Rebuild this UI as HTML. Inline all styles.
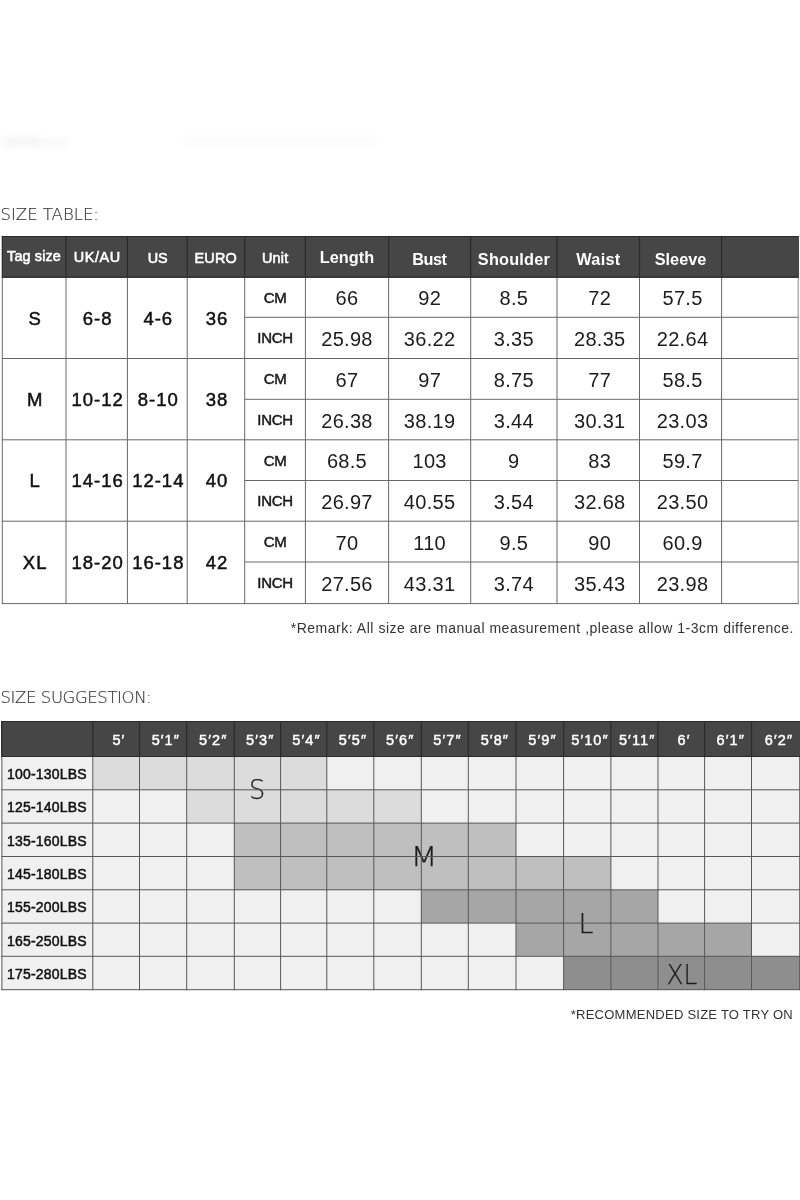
<!DOCTYPE html>
<html lang="en">
<head>
<meta charset="utf-8">
<title>Size Table</title>
<style>
html,body{margin:0;padding:0;background:#fff;}
body{width:800px;height:1200px;position:relative;overflow:hidden;font-family:"Liberation Sans",sans-serif;color:#111;}
.abs{position:absolute;}
svg{position:absolute;left:0;top:0;}
.c{position:absolute;display:flex;align-items:center;justify-content:center;white-space:nowrap;box-sizing:border-box;}
.c span{display:inline-block;}
.title{position:absolute;left:0.5px;font-family:"DejaVu Sans Light","DejaVu Sans","Liberation Sans",sans-serif;font-weight:200;font-size:16.5px;color:#3c3c3c;-webkit-text-stroke:0.2px #3c3c3c;white-space:nowrap;}
.h1{color:#fff;font-size:15.5px;padding-top:2px;-webkit-text-stroke:0.6px #fff;}
.h1 span{transform:scaleX(.93);}
.h1b{color:#fff;font-weight:bold;font-size:16.3px;letter-spacing:0.1px;padding-top:4px;}
.b1{font-size:18.5px;color:#111;letter-spacing:1px;-webkit-text-stroke:0.5px #111;padding-top:2px;padding-left:2px;}
.u1{font-size:15px;color:#1a1a1a;letter-spacing:-0.3px;-webkit-text-stroke:0.5px #1a1a1a;}
.v1{font-size:20px;color:#1c1c1c;letter-spacing:0.3px;padding-top:3.5px;}
.note{position:absolute;font-size:13px;color:#333;white-space:nowrap;letter-spacing:0.35px;}
.h2{color:#fff;font-size:14.5px;letter-spacing:1.1px;-webkit-text-stroke:0.45px #fff;padding-left:5.5px;padding-top:2.2px;}
.w2{font-size:14px;color:#111;justify-content:flex-start;letter-spacing:0.22px;-webkit-text-stroke:0.5px #111;padding-top:2px;}
.big{position:absolute;font-family:"DejaVu Sans Light","DejaVu Sans","Liberation Sans",sans-serif;font-weight:200;font-size:25.7px;color:#1e1e1e;-webkit-text-stroke:0.25px #1e1e1e;white-space:nowrap;transform:translate(-50%,-50%);}

</style>
</head>
<body>
<div class="abs" style="left:2px;top:137px;width:38px;height:9px;background:#f5f5f5;filter:blur(3px);"></div>
<div class="abs" style="left:38px;top:139px;width:30px;height:7px;background:#f9f9f9;filter:blur(3px);"></div>
<div class="abs" style="left:185px;top:137px;width:190px;height:8px;background:#fafafa;filter:blur(3px);"></div>
<div class="title" style="top:204.5px;">SIZE TABLE:</div>
<div class="abs" style="left:2px;top:236px;width:796.6px;height:42px;background:#464646;"></div>
<div class="c h1" style="left:2.3px;top:232.5px;width:63.7px;height:44.5px;"><span style="letter-spacing:0.15px;margin-right:-0.15px">Tag size</span></div>
<div class="c h1" style="left:66.0px;top:234.5px;width:61.4px;height:42.5px;"><span style="letter-spacing:0.65px;margin-right:-0.65px">UK/AU</span></div>
<div class="c h1" style="left:127.4px;top:236.5px;width:59.8px;height:40.5px;"><span style="letter-spacing:-0.20px;margin-right:0.20px">US</span></div>
<div class="c h1" style="left:187.2px;top:236.5px;width:57.5px;height:40.5px;"><span style="letter-spacing:0.15px;margin-right:-0.15px">EURO</span></div>
<div class="c h1" style="left:244.7px;top:236.5px;width:60.7px;height:40.5px;"><span style="letter-spacing:0.20px;margin-right:-0.20px">Unit</span></div>
<div class="c h1b" style="left:305.4px;top:233.5px;width:83.2px;height:43.5px;"><span style="letter-spacing:0.00px;margin-right:-0.00px">Length</span></div>
<div class="c h1b" style="left:388.6px;top:237.1px;width:82.1px;height:39.9px;"><span style="letter-spacing:-0.50px;margin-right:0.50px">Bust</span></div>
<div class="c h1b" style="left:470.7px;top:237.1px;width:86.3px;height:39.9px;"><span style="letter-spacing:0.20px;margin-right:-0.20px">Shoulder</span></div>
<div class="c h1b" style="left:557.0px;top:237.1px;width:82.5px;height:39.9px;"><span style="letter-spacing:0.30px;margin-right:-0.30px">Waist</span></div>
<div class="c h1b" style="left:639.5px;top:237.1px;width:82.1px;height:39.9px;"><span style="letter-spacing:0.00px;margin-right:-0.00px">Sleeve</span></div>
<div class="c b1" style="left:2.3px;top:277.0px;width:63.7px;height:81.5px;"><span>S</span></div>
<div class="c b1" style="left:66.0px;top:277.0px;width:61.4px;height:81.5px;"><span>6-8</span></div>
<div class="c b1" style="left:127.4px;top:277.0px;width:59.8px;height:81.5px;"><span>4-6</span></div>
<div class="c b1" style="left:187.2px;top:277.0px;width:57.5px;height:81.5px;"><span>36</span></div>
<div class="c u1" style="left:244.7px;top:277.0px;width:60.7px;height:40.3px;"><span>CM</span></div>
<div class="c u1" style="left:244.7px;top:317.3px;width:60.7px;height:41.2px;"><span>INCH</span></div>
<div class="c v1" style="left:305.4px;top:277.0px;width:83.2px;height:40.3px;"><span>66</span></div>
<div class="c v1" style="left:388.6px;top:277.0px;width:82.1px;height:40.3px;"><span>92</span></div>
<div class="c v1" style="left:470.7px;top:277.0px;width:86.3px;height:40.3px;"><span>8.5</span></div>
<div class="c v1" style="left:560.0px;top:277.0px;width:79.5px;height:40.3px;"><span>72</span></div>
<div class="c v1" style="left:643.5px;top:277.0px;width:78.1px;height:40.3px;"><span>57.5</span></div>
<div class="c v1" style="left:305.4px;top:317.3px;width:83.2px;height:41.2px;"><span>25.98</span></div>
<div class="c v1" style="left:388.6px;top:317.3px;width:82.1px;height:41.2px;"><span>36.22</span></div>
<div class="c v1" style="left:470.7px;top:317.3px;width:86.3px;height:41.2px;"><span>3.35</span></div>
<div class="c v1" style="left:560.0px;top:317.3px;width:79.5px;height:41.2px;"><span>28.35</span></div>
<div class="c v1" style="left:643.5px;top:317.3px;width:78.1px;height:41.2px;"><span>22.64</span></div>
<div class="c b1" style="left:2.3px;top:358.5px;width:63.7px;height:81.3px;"><span>M</span></div>
<div class="c b1" style="left:66.0px;top:358.5px;width:61.4px;height:81.3px;"><span>10-12</span></div>
<div class="c b1" style="left:127.4px;top:358.5px;width:59.8px;height:81.3px;"><span>8-10</span></div>
<div class="c b1" style="left:187.2px;top:358.5px;width:57.5px;height:81.3px;"><span>38</span></div>
<div class="c u1" style="left:244.7px;top:358.5px;width:60.7px;height:40.8px;"><span>CM</span></div>
<div class="c u1" style="left:244.7px;top:399.3px;width:60.7px;height:40.5px;"><span>INCH</span></div>
<div class="c v1" style="left:305.4px;top:358.5px;width:83.2px;height:40.8px;"><span>67</span></div>
<div class="c v1" style="left:388.6px;top:358.5px;width:82.1px;height:40.8px;"><span>97</span></div>
<div class="c v1" style="left:470.7px;top:358.5px;width:86.3px;height:40.8px;"><span>8.75</span></div>
<div class="c v1" style="left:560.0px;top:358.5px;width:79.5px;height:40.8px;"><span>77</span></div>
<div class="c v1" style="left:643.5px;top:358.5px;width:78.1px;height:40.8px;"><span>58.5</span></div>
<div class="c v1" style="left:305.4px;top:399.3px;width:83.2px;height:40.5px;"><span>26.38</span></div>
<div class="c v1" style="left:388.6px;top:399.3px;width:82.1px;height:40.5px;"><span>38.19</span></div>
<div class="c v1" style="left:470.7px;top:399.3px;width:86.3px;height:40.5px;"><span>3.44</span></div>
<div class="c v1" style="left:560.0px;top:399.3px;width:79.5px;height:40.5px;"><span>30.31</span></div>
<div class="c v1" style="left:643.5px;top:399.3px;width:78.1px;height:40.5px;"><span>23.03</span></div>
<div class="c b1" style="left:2.3px;top:439.8px;width:63.7px;height:81.4px;"><span>L</span></div>
<div class="c b1" style="left:66.0px;top:439.8px;width:61.4px;height:81.4px;"><span>14-16</span></div>
<div class="c b1" style="left:127.4px;top:439.8px;width:59.8px;height:81.4px;"><span>12-14</span></div>
<div class="c b1" style="left:187.2px;top:439.8px;width:57.5px;height:81.4px;"><span>40</span></div>
<div class="c u1" style="left:244.7px;top:439.8px;width:60.7px;height:40.7px;"><span>CM</span></div>
<div class="c u1" style="left:244.7px;top:480.5px;width:60.7px;height:40.7px;"><span>INCH</span></div>
<div class="c v1" style="left:305.4px;top:439.8px;width:83.2px;height:40.7px;"><span>68.5</span></div>
<div class="c v1" style="left:388.6px;top:439.8px;width:82.1px;height:40.7px;"><span>103</span></div>
<div class="c v1" style="left:470.7px;top:439.8px;width:86.3px;height:40.7px;"><span>9</span></div>
<div class="c v1" style="left:560.0px;top:439.8px;width:79.5px;height:40.7px;"><span>83</span></div>
<div class="c v1" style="left:643.5px;top:439.8px;width:78.1px;height:40.7px;"><span>59.7</span></div>
<div class="c v1" style="left:305.4px;top:480.5px;width:83.2px;height:40.7px;"><span>26.97</span></div>
<div class="c v1" style="left:388.6px;top:480.5px;width:82.1px;height:40.7px;"><span>40.55</span></div>
<div class="c v1" style="left:470.7px;top:480.5px;width:86.3px;height:40.7px;"><span>3.54</span></div>
<div class="c v1" style="left:560.0px;top:480.5px;width:79.5px;height:40.7px;"><span>32.68</span></div>
<div class="c v1" style="left:643.5px;top:480.5px;width:78.1px;height:40.7px;"><span>23.50</span></div>
<div class="c b1" style="left:2.3px;top:521.2px;width:63.7px;height:82.4px;"><span>XL</span></div>
<div class="c b1" style="left:66.0px;top:521.2px;width:61.4px;height:82.4px;"><span>18-20</span></div>
<div class="c b1" style="left:127.4px;top:521.2px;width:59.8px;height:82.4px;"><span>16-18</span></div>
<div class="c b1" style="left:187.2px;top:521.2px;width:57.5px;height:82.4px;"><span>42</span></div>
<div class="c u1" style="left:244.7px;top:521.2px;width:60.7px;height:40.8px;"><span>CM</span></div>
<div class="c u1" style="left:244.7px;top:562.0px;width:60.7px;height:41.6px;"><span>INCH</span></div>
<div class="c v1" style="left:305.4px;top:521.2px;width:83.2px;height:40.8px;"><span>70</span></div>
<div class="c v1" style="left:388.6px;top:521.2px;width:82.1px;height:40.8px;"><span>110</span></div>
<div class="c v1" style="left:470.7px;top:521.2px;width:86.3px;height:40.8px;"><span>9.5</span></div>
<div class="c v1" style="left:560.0px;top:521.2px;width:79.5px;height:40.8px;"><span>90</span></div>
<div class="c v1" style="left:643.5px;top:521.2px;width:78.1px;height:40.8px;"><span>60.9</span></div>
<div class="c v1" style="left:305.4px;top:562.0px;width:83.2px;height:41.6px;"><span>27.56</span></div>
<div class="c v1" style="left:388.6px;top:562.0px;width:82.1px;height:41.6px;"><span>43.31</span></div>
<div class="c v1" style="left:470.7px;top:562.0px;width:86.3px;height:41.6px;"><span>3.74</span></div>
<div class="c v1" style="left:560.0px;top:562.0px;width:79.5px;height:41.6px;"><span>35.43</span></div>
<div class="c v1" style="left:643.5px;top:562.0px;width:78.1px;height:41.6px;"><span>23.98</span></div>
<div class="note" style="right:6px;top:619.5px;font-size:14px;letter-spacing:0.52px;">*Remark: All size are manual measurement ,please allow 1-3cm difference.</div>
<div class="title" style="top:687.5px;letter-spacing:-0.4px;">SIZE SUGGESTION:</div>
<div class="abs" style="left:1px;top:757px;width:799px;height:232.7px;background:#f0f0f0;"></div>
<div class="abs" style="left:1px;top:721px;width:799px;height:36px;background:#464646;"></div>
<div class="abs" style="left:93px;top:756px;width:234px;height:34px;background:#dcdcdc;"></div>
<div class="abs" style="left:187px;top:790px;width:234px;height:33px;background:#dcdcdc;"></div>
<div class="abs" style="left:234px;top:823px;width:282px;height:33px;background:#bfbfbf;"></div>
<div class="abs" style="left:234px;top:856px;width:377px;height:34px;background:#bfbfbf;"></div>
<div class="abs" style="left:421px;top:890px;width:237px;height:33px;background:#a6a6a6;"></div>
<div class="abs" style="left:516px;top:923px;width:236px;height:33px;background:#a6a6a6;"></div>
<div class="abs" style="left:564px;top:956px;width:237px;height:34px;background:#8e8e8e;"></div>
<div class="c h2" style="left:92.8px;top:721.5px;width:46.7px;height:35.0px;"><span>5&#8242;</span></div>
<div class="c h2" style="left:139.5px;top:721.5px;width:47.2px;height:35.0px;"><span>5&#8242;1&#8243;</span></div>
<div class="c h2" style="left:186.7px;top:721.5px;width:47.6px;height:35.0px;"><span>5&#8242;2&#8243;</span></div>
<div class="c h2" style="left:234.3px;top:721.5px;width:46.3px;height:35.0px;"><span>5&#8242;3&#8243;</span></div>
<div class="c h2" style="left:280.6px;top:721.5px;width:46.2px;height:35.0px;"><span>5&#8242;4&#8243;</span></div>
<div class="c h2" style="left:326.8px;top:721.5px;width:47.0px;height:35.0px;"><span>5&#8242;5&#8243;</span></div>
<div class="c h2" style="left:373.8px;top:721.5px;width:47.5px;height:35.0px;"><span>5&#8242;6&#8243;</span></div>
<div class="c h2" style="left:421.3px;top:721.5px;width:47.0px;height:35.0px;"><span>5&#8242;7&#8243;</span></div>
<div class="c h2" style="left:468.3px;top:721.5px;width:47.7px;height:35.0px;"><span>5&#8242;8&#8243;</span></div>
<div class="c h2" style="left:516.0px;top:721.5px;width:47.6px;height:35.0px;"><span>5&#8242;9&#8243;</span></div>
<div class="c h2" style="left:563.6px;top:721.5px;width:47.3px;height:35.0px;"><span>5&#8242;10&#8243;</span></div>
<div class="c h2" style="left:610.9px;top:721.5px;width:47.1px;height:35.0px;"><span>5&#8242;11&#8243;</span></div>
<div class="c h2" style="left:658.0px;top:721.5px;width:46.6px;height:35.0px;"><span>6&#8242;</span></div>
<div class="c h2" style="left:704.6px;top:721.5px;width:46.9px;height:35.0px;"><span>6&#8242;1&#8243;</span></div>
<div class="c h2" style="left:751.5px;top:721.5px;width:49.5px;height:35.0px;"><span>6&#8242;2&#8243;</span></div>
<div class="c w2" style="left:1.9px;top:756.5px;width:90.9px;height:33.3px;padding-left:5px;"><span>100-130LBS</span></div>
<div class="c w2" style="left:1.9px;top:789.8px;width:90.9px;height:33.3px;padding-left:5px;"><span>125-140LBS</span></div>
<div class="c w2" style="left:1.9px;top:823.1px;width:90.9px;height:33.4px;padding-left:5px;"><span>135-160LBS</span></div>
<div class="c w2" style="left:1.9px;top:856.5px;width:90.9px;height:33.3px;padding-left:5px;"><span>145-180LBS</span></div>
<div class="c w2" style="left:1.9px;top:889.8px;width:90.9px;height:33.3px;padding-left:5px;"><span>155-200LBS</span></div>
<div class="c w2" style="left:1.9px;top:923.1px;width:90.9px;height:33.2px;padding-left:5px;"><span>165-250LBS</span></div>
<div class="c w2" style="left:1.9px;top:956.3px;width:90.9px;height:33.4px;padding-left:5px;"><span>175-280LBS</span></div>
<div class="big" style="left:257.2px;top:790.1px;transform:translate(-50%,-50%) scaleX(1.0);">S</div>
<div class="big" style="left:423.7px;top:857px;transform:translate(-50%,-50%) scaleX(1.22);">M</div>
<div class="big" style="left:585.8px;top:923.5px;transform:translate(-50%,-50%) scaleX(1.05);">L</div>
<div class="big" style="left:682px;top:974.5px;transform:translate(-50%,-50%) scaleX(0.97);">XL</div>
<div class="note" style="right:7px;top:1006.5px;font-size:13px;letter-spacing:0.25px;">*RECOMMENDED SIZE TO TRY ON</div>
<svg width="800" height="1200" viewBox="0 0 800 1200">
<g stroke="#686868" stroke-width="1" fill="none">
<line x1="244.7" y1="317.3" x2="798.6" y2="317.3"/>
<line x1="1.8" y1="358.5" x2="798.6" y2="358.5"/>
<line x1="244.7" y1="399.3" x2="798.6" y2="399.3"/>
<line x1="1.8" y1="439.8" x2="798.6" y2="439.8"/>
<line x1="244.7" y1="480.5" x2="798.6" y2="480.5"/>
<line x1="1.8" y1="521.2" x2="798.6" y2="521.2"/>
<line x1="244.7" y1="562.0" x2="798.6" y2="562.0"/>
<line x1="1.8" y1="603.6" x2="798.6" y2="603.6"/>
<line x1="798.2" y1="277.0" x2="798.2" y2="604.1" stroke="#8a8a8a"/>
<line x1="2.3" y1="277.0" x2="2.3" y2="604.1"/>
<line x1="66.0" y1="277.0" x2="66.0" y2="604.1"/>
<line x1="127.4" y1="277.0" x2="127.4" y2="604.1"/>
<line x1="187.2" y1="277.0" x2="187.2" y2="604.1"/>
<line x1="244.7" y1="277.0" x2="244.7" y2="604.1"/>
<line x1="305.4" y1="277.0" x2="305.4" y2="604.1"/>
<line x1="388.6" y1="277.0" x2="388.6" y2="604.1"/>
<line x1="470.7" y1="277.0" x2="470.7" y2="604.1"/>
<line x1="557.0" y1="277.0" x2="557.0" y2="604.1"/>
<line x1="639.5" y1="277.0" x2="639.5" y2="604.1"/>
<line x1="721.6" y1="277.0" x2="721.6" y2="604.1"/>
</g>
<g stroke="#585858" stroke-width="1" fill="none">
<line x1="1.4" y1="789.8" x2="800" y2="789.8"/>
<line x1="1.4" y1="823.1" x2="800" y2="823.1"/>
<line x1="1.4" y1="856.5" x2="800" y2="856.5"/>
<line x1="1.4" y1="889.8" x2="800" y2="889.8"/>
<line x1="1.4" y1="923.1" x2="800" y2="923.1"/>
<line x1="1.4" y1="956.3" x2="800" y2="956.3"/>
<line x1="1.4" y1="989.7" x2="800" y2="989.7"/>
<line x1="1.9" y1="756.5" x2="1.9" y2="990.2"/>
<line x1="92.8" y1="756.5" x2="92.8" y2="990.2"/>
<line x1="139.5" y1="756.5" x2="139.5" y2="990.2"/>
<line x1="186.7" y1="756.5" x2="186.7" y2="990.2"/>
<line x1="234.3" y1="756.5" x2="234.3" y2="990.2"/>
<line x1="280.6" y1="756.5" x2="280.6" y2="990.2"/>
<line x1="326.8" y1="756.5" x2="326.8" y2="990.2"/>
<line x1="373.8" y1="756.5" x2="373.8" y2="990.2"/>
<line x1="421.3" y1="756.5" x2="421.3" y2="990.2"/>
<line x1="468.3" y1="756.5" x2="468.3" y2="990.2"/>
<line x1="516.0" y1="756.5" x2="516.0" y2="990.2"/>
<line x1="563.6" y1="756.5" x2="563.6" y2="990.2"/>
<line x1="610.9" y1="756.5" x2="610.9" y2="990.2"/>
<line x1="658.0" y1="756.5" x2="658.0" y2="990.2"/>
<line x1="704.6" y1="756.5" x2="704.6" y2="990.2"/>
<line x1="751.5" y1="756.5" x2="751.5" y2="990.2"/>
<line x1="799.7" y1="756.5" x2="799.7" y2="990.2"/>
</g>
<g stroke="#2b2b2b" stroke-width="1.2" fill="none">
<line x1="1.8" y1="236.5" x2="798.6" y2="236.5"/>
<line x1="1.8" y1="277.0" x2="798.6" y2="277.0"/>
<line x1="2.3" y1="236.0" x2="2.3" y2="277.5"/>
<line x1="66.0" y1="236.0" x2="66.0" y2="277.5"/>
<line x1="127.4" y1="236.0" x2="127.4" y2="277.5"/>
<line x1="187.2" y1="236.0" x2="187.2" y2="277.5"/>
<line x1="244.7" y1="236.0" x2="244.7" y2="277.5"/>
<line x1="305.4" y1="236.0" x2="305.4" y2="277.5"/>
<line x1="388.6" y1="236.0" x2="388.6" y2="277.5"/>
<line x1="470.7" y1="236.0" x2="470.7" y2="277.5"/>
<line x1="557.0" y1="236.0" x2="557.0" y2="277.5"/>
<line x1="639.5" y1="236.0" x2="639.5" y2="277.5"/>
<line x1="721.6" y1="236.0" x2="721.6" y2="277.5"/>
<line x1="1.4" y1="721.5" x2="800" y2="721.5"/>
<line x1="1.4" y1="756.5" x2="800" y2="756.5"/>
<line x1="1.9" y1="721.0" x2="1.9" y2="757.0"/>
<line x1="92.8" y1="721.0" x2="92.8" y2="757.0"/>
<line x1="139.5" y1="721.0" x2="139.5" y2="757.0"/>
<line x1="186.7" y1="721.0" x2="186.7" y2="757.0"/>
<line x1="234.3" y1="721.0" x2="234.3" y2="757.0"/>
<line x1="280.6" y1="721.0" x2="280.6" y2="757.0"/>
<line x1="326.8" y1="721.0" x2="326.8" y2="757.0"/>
<line x1="373.8" y1="721.0" x2="373.8" y2="757.0"/>
<line x1="421.3" y1="721.0" x2="421.3" y2="757.0"/>
<line x1="468.3" y1="721.0" x2="468.3" y2="757.0"/>
<line x1="516.0" y1="721.0" x2="516.0" y2="757.0"/>
<line x1="563.6" y1="721.0" x2="563.6" y2="757.0"/>
<line x1="610.9" y1="721.0" x2="610.9" y2="757.0"/>
<line x1="658.0" y1="721.0" x2="658.0" y2="757.0"/>
<line x1="704.6" y1="721.0" x2="704.6" y2="757.0"/>
<line x1="751.5" y1="721.0" x2="751.5" y2="757.0"/>
</g>
</svg>
</body>
</html>
